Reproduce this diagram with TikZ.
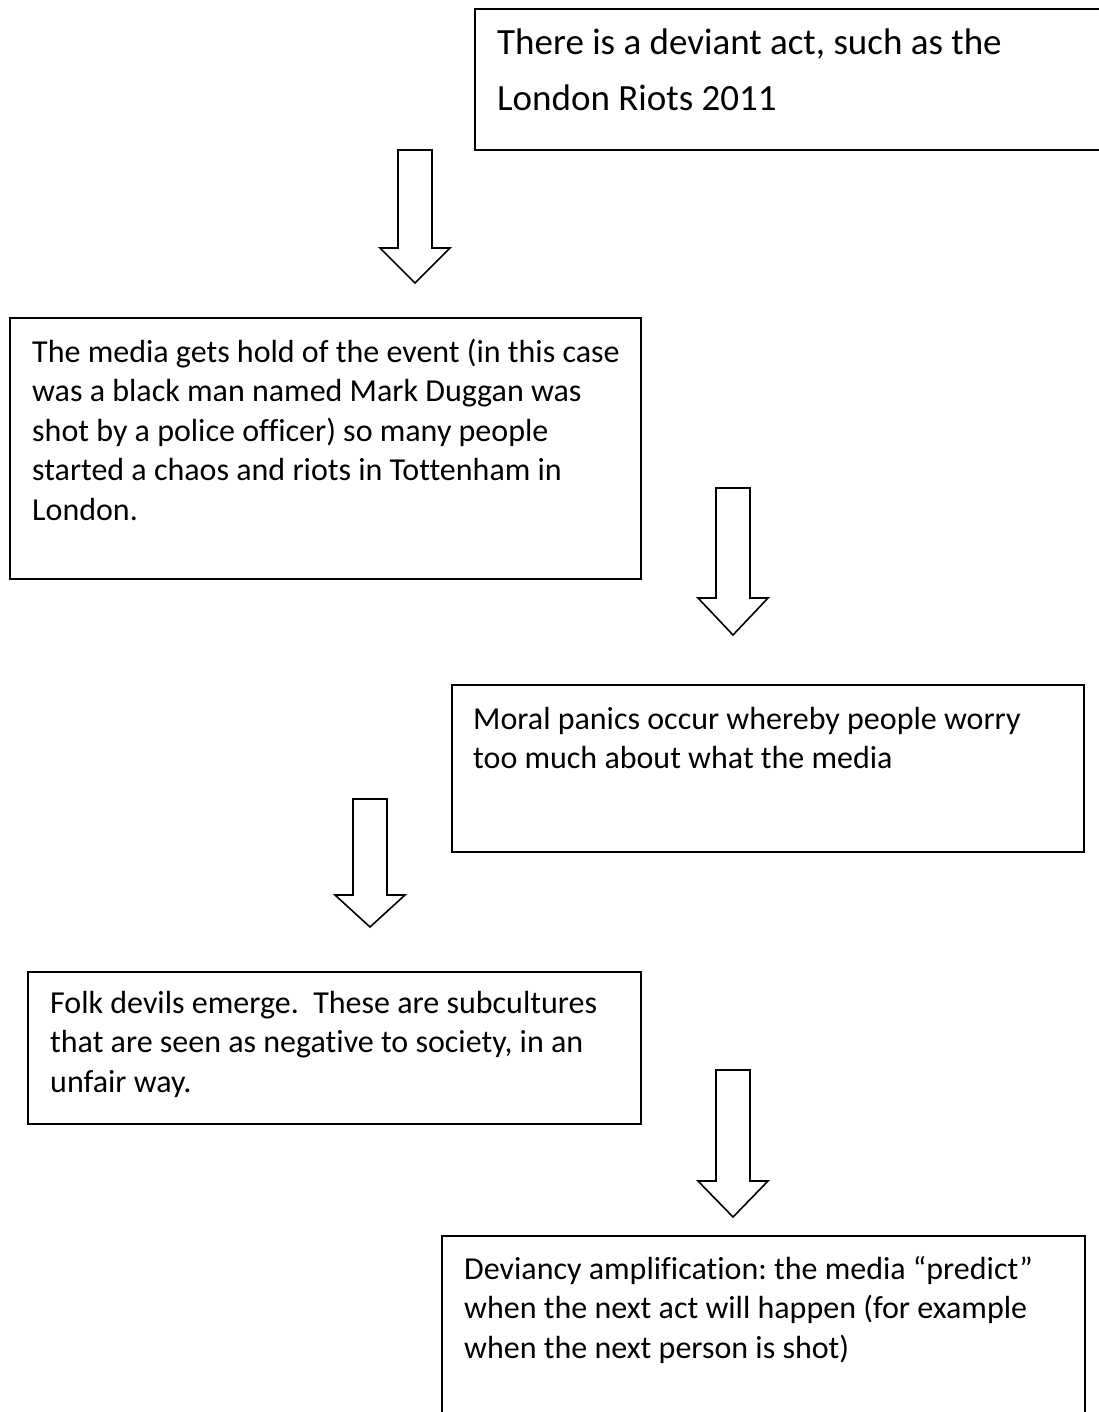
\documentclass[tikz,border=0pt]{standalone}
\usepackage{fontspec}
\setmainfont[Ligatures={NoCommon}]{Carlito}
\frenchspacing
\begin{document}
\begin{tikzpicture}[x=1pt,y=-1pt,
  box/.style={draw=black,line width=1.6pt,rectangle,inner sep=0pt,fill=none},
  bodytext/.style={anchor=north west,inner sep=0pt,align=left,font=\fontsize{32}{39.5}\selectfont},
  titletext/.style={anchor=north west,inner sep=0pt,align=left,font=\fontsize{37}{56}\selectfont},
  blockarrow/.style={draw=black,line width=1.6pt,fill=white,line join=miter}]
\useasboundingbox (0,0) rectangle (1098,1412);
\newcommand\mybox[5]{\node[box,minimum width={#3-#1},minimum height={#4-#2}] (#5) at ({(#1+#3)/2},{(#2+#4)/2}) {};}
\newcommand\myarrow[5]{%
  \coordinate (#5) at (#1,#2);
  \draw[blockarrow] ([xshift=-17pt]#5) -- ([xshift=17pt]#5) -- ([xshift=17pt,yshift=-(#3-#2)*1pt]#5)
    -- ([xshift=35pt,yshift=-(#3-#2)*1pt]#5) -- ([yshift=-(#4-#2)*1pt]#5)
    -- ([xshift=-35pt,yshift=-(#3-#2)*1pt]#5) -- ([xshift=-17pt,yshift=-(#3-#2)*1pt]#5) -- cycle;}
% boxes
\mybox{475}{9}{1120}{150}{b1}
\mybox{10}{318}{641}{579}{b2}
\mybox{452}{685}{1084}{852}{b3}
\mybox{28}{972}{641}{1124}{b4}
\mybox{442}{1236}{1085}{1440}{b5}
% texts
\node[titletext] (t1) at (497,{54-0.7*56}) {\strut There is a deviant act, such as the\\London Riots 2011};
\node[bodytext] (t2) at (32,{362-0.7*39.5}) {\strut The media gets hold of the event (in this case\\was a black man named Mark Duggan was\\shot by a police officer) so many people\\started a chaos and riots in Tottenham in\\London.};
\node[bodytext] (t3) at (473,{729-0.7*39.5}) {\strut Moral panics occur whereby people worry\\too much about what the media};
\node[bodytext] (t4) at (50,{1013-0.7*39.5}) {\strut Folk devils emerge.\ \ These are subcultures\\that are seen as negative to society, in an\\unfair way.};
\node[bodytext] (t5) at (464,{1279-0.7*39.5}) {\strut Deviancy amplification: the media “predict”\\when the next act will happen (for example\\when the next person is shot)};
% arrows
\myarrow{415}{150}{248}{283}{a1}
\myarrow{733}{488}{598}{635}{a2}
\myarrow{370}{799}{895}{927}{a3}
\myarrow{733}{1070}{1181}{1217}{a4}
\end{tikzpicture}
\end{document}
